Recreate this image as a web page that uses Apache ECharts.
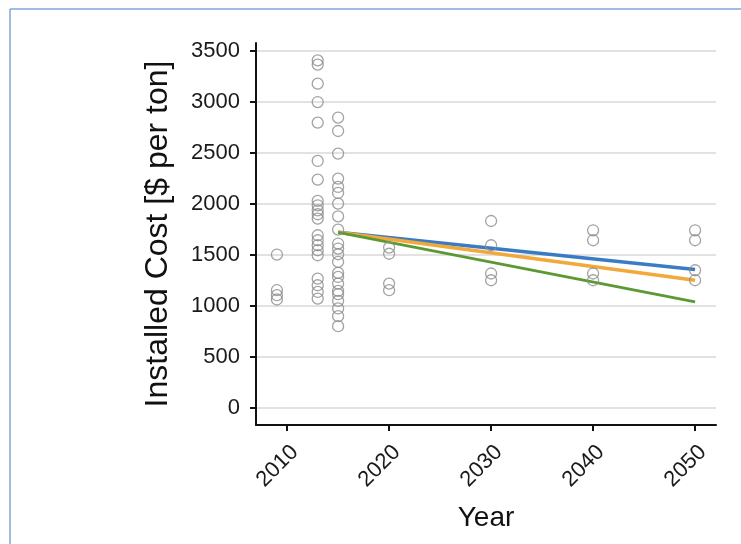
<!DOCTYPE html>
<html>
<head>
<meta charset="utf-8">
<script src="https://cdn.jsdelivr.net/npm/echarts@6/dist/echarts.min.js"></script>
<style>
  html, body {margin: 0; padding: 0; background: #fff;}
  #chart {width: 741px; height: 544px;}
</style>
</head>
<body>
<div id="chart"></div>
<script>
// observed installed costs, grouped by year
const cost2009 = [1502, 1152, 1103, 1061];
const cost2013 = [3407, 3365, 3178, 2998, 2796, 2420, 2237, 2028, 1985, 1936, 1897, 1855,
                  1691, 1642, 1593, 1544, 1495, 1266, 1201, 1135, 1070];
const cost2015 = [2845, 2714, 2492, 2247, 2165, 2106, 2002, 1877, 1747, 1610, 1561, 1505,
                  1430, 1322, 1282, 1217, 1145, 1113, 1047, 973, 897, 799];
const cost2020 = [1570, 1510, 1217, 1152];
const cost2030 = [1831, 1593, 1316, 1250];
const cost2040 = [1740, 1642, 1316, 1250];
const cost2050 = [1740, 1642, 1348, 1250];

// projection lines
const projYears = [2015, 2050];
const projBlue = [1720, 1355];
const projOrange = [1720, 1250];
const projGreen = [1720, 1037];

const yTicks = [0, 500, 1000, 1500, 2000, 2500, 3000, 3500];
const xTicks = [2010, 2020, 2030, 2040, 2050];

const groups = [[2009, cost2009], [2013, cost2013], [2015, cost2015], [2020, cost2020],
                [2030, cost2030], [2040, cost2040], [2050, cost2050]];
const points = [];
groups.forEach(([yr, arr]) => arr.forEach(v => points.push([yr, v])));

const pair = vals => projYears.map((yr, i) => [yr, vals[i]]);
const font = "'Liberation Sans', Arial, sans-serif";

const chart = echarts.init(document.getElementById('chart'));
chart.setOption({
    animation: false,
    textStyle: {fontFamily: font},
    graphic: [
        {type: 'line', shape: {x1: 10, y1: 9, x2: 741, y2: 9}, style: {stroke: '#82a6d8', lineWidth: 1.5}},
        {type: 'line', shape: {x1: 10, y1: 9, x2: 10, y2: 544}, style: {stroke: '#82a6d8', lineWidth: 1.5}}
    ],
    grid: {left: 256, right: 25, top: 43, bottom: 119},
    xAxis: {
        type: 'value',
        min: 2006.95,
        max: 2052.05,
        name: 'Year',
        nameLocation: 'middle',
        nameGap: 79,
        nameTextStyle: {fontSize: 28, color: '#111', verticalAlign: 'top', fontFamily: font},
        axisLine: {onZero: false, lineStyle: {color: '#111', width: 2}},
        axisTick: {customValues: xTicks, length: 6, lineStyle: {color: '#111', width: 2}},
        axisLabel: {
            customValues: xTicks, rotate: 45, margin: 16, verticalAlign: 'top',
            fontSize: 22, color: '#1a1a1a', fontFamily: font,
            formatter: v => String(v)
        },
        splitLine: {show: false}
    },
    yAxis: {
        type: 'value',
        min: -170,
        max: 3577,
        name: 'Installed Cost [$ per ton]',
        nameLocation: 'middle',
        nameGap: 82,
        nameTextStyle: {fontSize: 32, color: '#111', fontFamily: font},
        axisLine: {show: true, onZero: false, lineStyle: {color: '#111', width: 2}},
        axisTick: {show: true, customValues: yTicks, length: 6, lineStyle: {color: '#111', width: 2}},
        axisLabel: {
            customValues: yTicks, margin: 16, fontSize: 22, color: '#1a1a1a', fontFamily: font,
            formatter: v => String(v)
        },
        splitLine: {show: true, lineStyle: {color: '#d9d9d9', width: 1.5}}
    },
    series: [
        {
            name: 'Blue', type: 'line', data: pair(projBlue), symbol: 'none',
            lineStyle: {color: '#3a7cc4', width: 3.5}, z: 3
        },
        {
            name: 'Orange', type: 'line', data: pair(projOrange), symbol: 'none',
            lineStyle: {color: '#f2a83a', width: 3.5}, z: 3
        },
        {
            name: 'Green', type: 'line', data: pair(projGreen), symbol: 'none',
            lineStyle: {color: '#5b9a32', width: 2.8}, z: 3
        },
        {
            name: 'Observed', type: 'scatter', data: points, symbol: 'circle', symbolSize: 11,
            itemStyle: {color: 'rgba(0,0,0,0)', borderColor: '#8c8c8c', borderWidth: 1.3}, z: 4
        }
    ]
});
</script>
</body>
</html>
